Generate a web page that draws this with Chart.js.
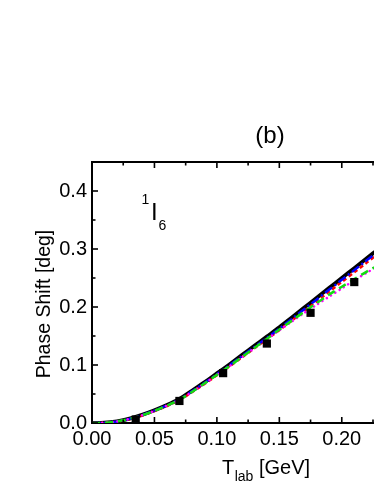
<!DOCTYPE html>
<html><head><meta charset="utf-8">
<script src="https://cdn.jsdelivr.net/npm/chart.js@4.4.1/dist/chart.umd.min.js"></script>
<style>html,body{margin:0;padding:0;background:#fff;overflow:hidden}#wrap{width:374px;height:484px;position:relative}canvas{display:block}</style>
</head><body><div id="wrap"><canvas id="c" width="374" height="484"></canvas></div>
<script>
// ---- data ----
const T = [0, 0.01, 0.02, 0.03, 0.04, 0.05, 0.06, 0.07, 0.08, 0.09, 0.10, 0.11, 0.12, 0.13, 0.14, 0.15, 0.16, 0.17, 0.18, 0.19, 0.20, 0.21, 0.22, 0.23];
const blackSolid = [0, 0.0005, 0.003, 0.0075, 0.014, 0.022, 0.031, 0.0415, 0.0555, 0.070, 0.0855, 0.101, 0.117, 0.133, 0.149, 0.165, 0.182, 0.199, 0.216, 0.233, 0.250, 0.267, 0.284, 0.301];
const blueDashDot = [0, 0.0004, 0.0027, 0.0071, 0.0135, 0.0214, 0.0303, 0.0407, 0.0545, 0.0688, 0.0841, 0.0994, 0.1152, 0.1310, 0.1468, 0.1627, 0.1795, 0.1963, 0.2131, 0.2300, 0.2468, 0.2636, 0.2805, 0.2973];
const redDashed = [0, 0.0003, 0.0024, 0.0066, 0.0128, 0.0205, 0.0292, 0.0394, 0.0530, 0.0672, 0.0823, 0.0975, 0.1131, 0.1287, 0.1443, 0.1600, 0.1766, 0.1932, 0.2098, 0.2265, 0.2432, 0.2598, 0.2765, 0.2932];
const magentaDotted = [0, 0.0004, 0.0027, 0.0070, 0.0133, 0.0210, 0.0300, 0.0400, 0.0535, 0.0680, 0.0830, 0.0980, 0.1135, 0.1290, 0.1445, 0.1600, 0.1750, 0.1900, 0.2040, 0.2180, 0.2320, 0.2460, 0.2590, 0.2720];
const greenDashed = [0, 0.0004, 0.0027, 0.0070, 0.0133, 0.0210, 0.0300, 0.0400, 0.0535, 0.0680, 0.0830, 0.0980, 0.1137, 0.1295, 0.1450, 0.1610, 0.1765, 0.1920, 0.2070, 0.2215, 0.2350, 0.2480, 0.2610, 0.2730];
const expT = [0.035, 0.070, 0.105, 0.140, 0.175, 0.210];
const expDelta = [0.006, 0.038, 0.086, 0.137, 0.190, 0.243];

const xTickValues = [0, 0.05, 0.10, 0.15, 0.20];
const xTickLabels = ['0.00', '0.05', '0.10', '0.15', '0.20'];
const xMinorValues = [0.025, 0.075, 0.125, 0.175, 0.225];
const yTickValues = [0, 0.1, 0.2, 0.3, 0.4];
const yTickLabels = ['0.0', '0.1', '0.2', '0.3', '0.4'];
const yMinorValues = [0.05, 0.15, 0.25, 0.35];

const panelTitle = '(b)';
const xTitleParts = ['T', 'lab', ' [GeV]'];
const yTitle = 'Phase Shift [deg]';
const waveParts = ['1', 'I', '6'];

const FONT = '"Liberation Sans", Arial, Helvetica, sans-serif';

function pts(xs, ys) { return xs.map((x, i) => ({x: x, y: ys[i]})); }

const decor = {
  id: 'decor',
  afterDraw(chart) {
    const ctx = chart.ctx, a = chart.chartArea;
    const xs = chart.scales.x, ys = chart.scales.y;
    ctx.save();
    ctx.strokeStyle = '#000';
    ctx.lineWidth = 2;
    // top frame line
    ctx.beginPath();
    ctx.moveTo(a.left - 1, a.top);
    ctx.lineTo(a.right + 1, a.top);
    ctx.stroke();
    ctx.lineWidth = 1.6;
    // x ticks (bottom and top, inward)
    const xt = (v, len) => {
      const p = xs.getPixelForValue(v);
      ctx.beginPath();
      ctx.moveTo(p, a.bottom); ctx.lineTo(p, a.bottom - len);
      ctx.moveTo(p, a.top); ctx.lineTo(p, a.top + len);
      ctx.stroke();
    };
    xTickValues.forEach(v => xt(v, 6));
    xMinorValues.forEach(v => xt(v, 3.5));
    const yt = (v, len) => {
      const p = ys.getPixelForValue(v);
      ctx.beginPath();
      ctx.moveTo(a.left, p); ctx.lineTo(a.left + len, p);
      ctx.stroke();
    };
    yTickValues.forEach(v => yt(v, 6));
    yMinorValues.forEach(v => yt(v, 3.5));

    ctx.fillStyle = '#000';
    // panel title
    ctx.font = '24px ' + FONT;
    ctx.textAlign = 'center';
    ctx.textBaseline = 'middle';
    ctx.fillText(panelTitle, 270, 136);

    // x axis title with subscript
    ctx.textAlign = 'left';
    ctx.textBaseline = 'alphabetic';
    let x = 222;
    ctx.font = '20px ' + FONT;
    ctx.fillText(xTitleParts[0], x, 474);
    x += ctx.measureText(xTitleParts[0]).width;
    ctx.font = '14px ' + FONT;
    ctx.fillText(xTitleParts[1], x + 0.5, 481);
    x += ctx.measureText(xTitleParts[1]).width + 0.5;
    ctx.font = '20px ' + FONT;
    ctx.fillText(xTitleParts[2], x, 474);

    // y axis title
    ctx.save();
    ctx.translate(50, 304);
    ctx.rotate(-Math.PI / 2);
    ctx.textAlign = 'center';
    ctx.font = '19.5px ' + FONT;
    ctx.fillText(yTitle, 0, 0);
    ctx.restore();

    // partial-wave label  1I6
    ctx.font = '14px ' + FONT;
    ctx.fillText(waveParts[0], 141.5, 203.5);
    ctx.font = '24px ' + FONT;
    ctx.fillText(waveParts[1], 151, 220);
    ctx.font = '14px ' + FONT;
    ctx.fillText(waveParts[2], 158.5, 229.5);
    ctx.restore();
  }
};

const lineDs = (label, ys, color, width, dash, cap) => ({
  type: 'line', label: label, data: pts(T, ys), borderColor: color, backgroundColor: color,
  borderWidth: width, borderDash: dash, borderCapStyle: cap || 'butt', pointRadius: 0,
  tension: 0.3, fill: false
});

new Chart(document.getElementById('c'), {
  type: 'line',
  data: {
    datasets: [
      {type: 'scatter', label: 'data', data: pts(expT, expDelta), pointStyle: 'rect', pointRadius: 5.8,
       backgroundColor: '#000', borderColor: '#000', borderWidth: 0, showLine: false},
      lineDs('green', greenDashed, '#11dd11', 2.5, [8, 5]),
      lineDs('magenta', magentaDotted, '#ff00ff', 2.5, [0.1, 5], 'round'),
      lineDs('blue', blueDashDot, '#0000ff', 2.5, [9, 3, 2, 3]),
      lineDs('red', redDashed, '#ff0000', 2.5, [4, 3]),
      lineDs('black', blackSolid, '#000000', 3.8, [])
    ]
  },
  options: {
    responsive: false, animation: false, devicePixelRatio: 1,
    layout: {autoPadding: false, padding: {left: 0, right: 0, top: 162, bottom: 0}},
    plugins: {legend: {display: false}, tooltip: {enabled: false}, title: {display: false}},
    scales: {
      x: {
        type: 'linear', position: 'bottom', min: 0, max: 0.2258,
        grid: {display: false, drawTicks: false},
        border: {display: true, width: 2, color: '#000'},
        ticks: {color: '#000', font: {family: FONT, size: 20}, padding: 4, maxRotation: 0, autoSkip: false,
                callback: (v, i) => xTickLabels[i]},
        afterBuildTicks: s => { s.ticks = xTickValues.map(v => ({value: v})); },
        afterFit: s => { s.height = 61; s.paddingLeft = 0; s.paddingRight = 0; }
      },
      y: {
        type: 'linear', position: 'left', min: 0, max: 0.45,
        grid: {display: false, drawTicks: false},
        border: {display: true, width: 2, color: '#000'},
        ticks: {color: '#000', font: {family: FONT, size: 20}, padding: 5, autoSkip: false,
                callback: (v, i) => yTickLabels[i]},
        afterBuildTicks: s => { s.ticks = yTickValues.map(v => ({value: v})); },
        afterFit: s => { s.width = 92; s.paddingTop = 0; s.paddingBottom = 0; }
      }
    }
  },
  plugins: [decor]
});
</script></body></html>
